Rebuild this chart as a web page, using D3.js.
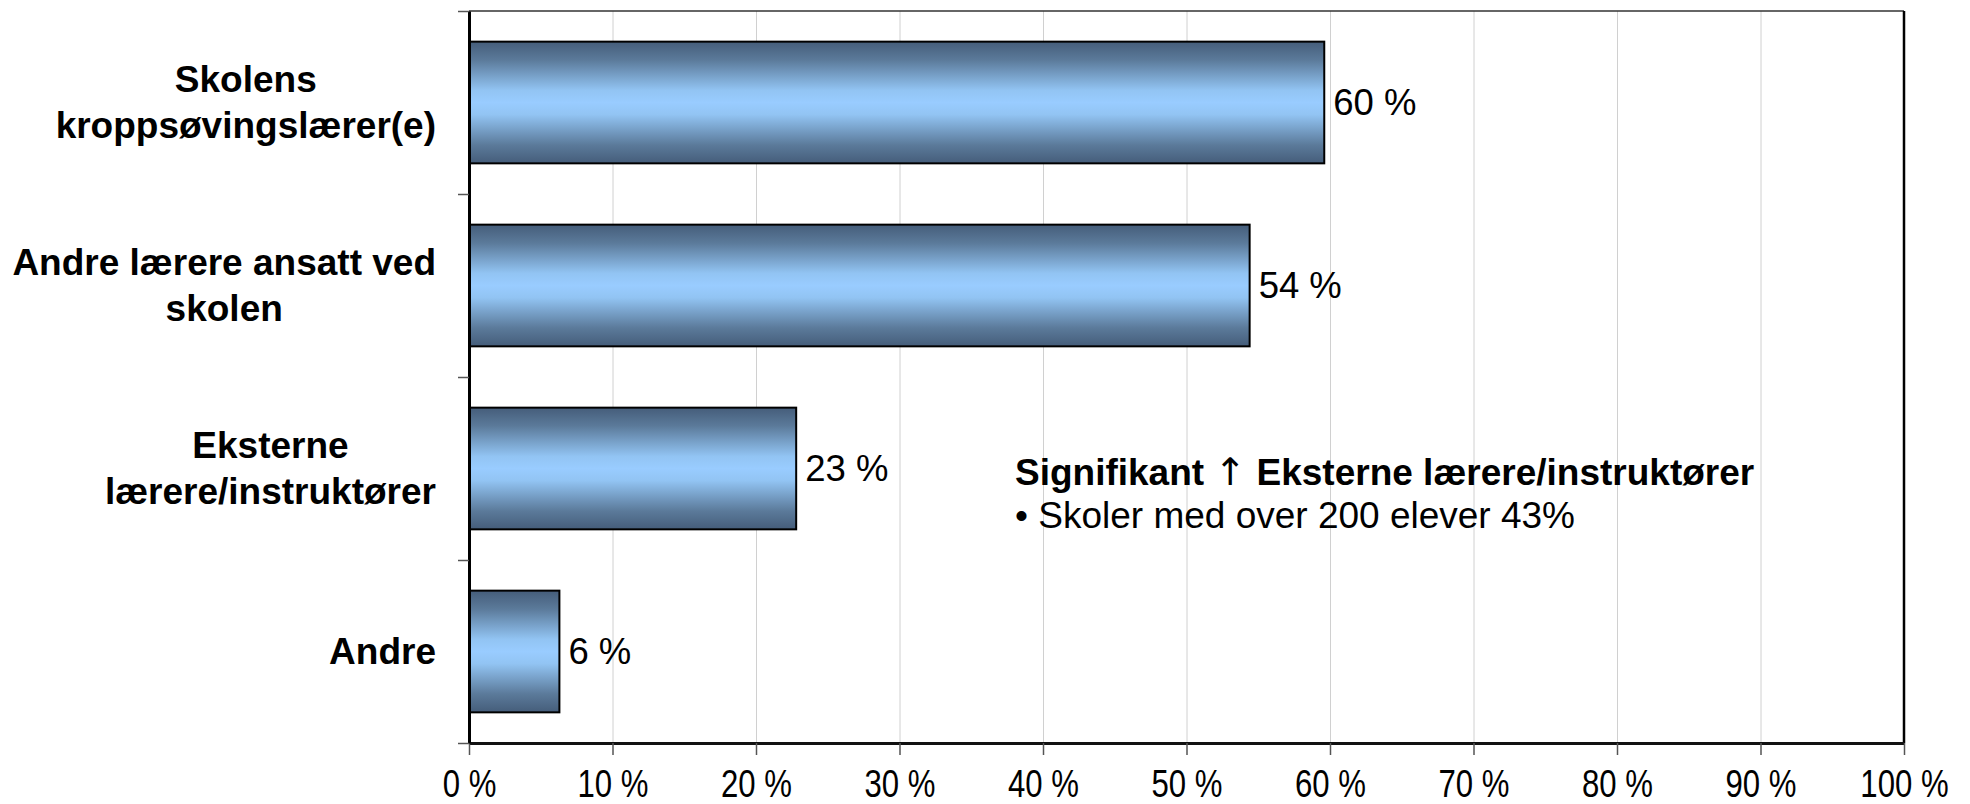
<!DOCTYPE html>
<html>
<head>
<meta charset="utf-8">
<script src="https://cdn.jsdelivr.net/npm/d3@7"></script>
<style>
    body { margin: 0; background: #fff; }
    svg { display: block; font-family: "Liberation Sans", Arial, sans-serif; }
    .grid line { stroke: #d0d0d0; stroke-width: 1; }
    .grid path { stroke: none; }
</style>
</head>
<body>
<script>
// data
var categories = [
    ["Skolens", "kroppsøvingslærer(e)"],
    ["Andre lærere ansatt ved", "skolen"],
    ["Eksterne", "lærere/instruktører"],
    ["Andre"]
];
var values = [59.6, 54.4, 22.8, 6.3];
var valueLabels = ["60 %", "54 %", "23 %", "6 %"];
var xTicks = [0, 10, 20, 30, 40, 50, 60, 70, 80, 90, 100];
var noteTitle = ["Signifikant ", "\u2191", " Eksterne lærere/instruktører"];
var noteLines = ["\u2022 Skoler med over 200 elever 43%"];

var margin = { top: 11, bottom: 61, left: 469, right: 66 };
var totalW = 1970, totalH = 804;
var width = totalW - margin.left - margin.right;
var height = totalH - margin.top - margin.bottom;

var svg = d3.select("body")
    .append("svg")
    .attr("width", totalW)
    .attr("height", totalH);

// bar gradient: dark at the edges, light blue in the middle
var grad = svg.append("defs")
    .append("linearGradient")
    .attr("id", "barGrad")
    .attr("x1", 0).attr("y1", 0).attr("x2", 0).attr("y2", 1);
grad.append("stop").attr("offset", "0%").attr("stop-color", "#455d7a");
grad.append("stop").attr("offset", "15%").attr("stop-color", "#5b7a9a");
grad.append("stop").attr("offset", "40%").attr("stop-color", "#92c4f3");
grad.append("stop").attr("offset", "50%").attr("stop-color", "#99ccff");
grad.append("stop").attr("offset", "60%").attr("stop-color", "#92c4f3");
grad.append("stop").attr("offset", "85%").attr("stop-color", "#5b7a9a");
grad.append("stop").attr("offset", "100%").attr("stop-color", "#455d7a");

var chart = svg.append("g")
    .attr("transform", "translate(" + margin.left + "," + margin.top + ")");

var xScale = d3.scaleLinear().domain([0, 100]).range([0, width]);
var yScale = d3.scaleBand()
    .domain(d3.range(categories.length))
    .range([0, height])
    .paddingInner(0.335)
    .paddingOuter(0.1675);

// vertical gridlines
chart.append("g")
    .attr("class", "grid")
    .attr("transform", "translate(0," + height + ")")
    .call(d3.axisBottom(xScale)
        .tickValues(xTicks)
        .tickSize(-height)
        .tickFormat(""));

// bars
chart.selectAll("rect.bar")
    .data(values)
    .enter()
    .append("rect")
    .attr("class", "bar")
    .attr("x", xScale(0))
    .attr("y", (d, i) => yScale(i))
    .attr("width", d => xScale(d) - xScale(0))
    .attr("height", yScale.bandwidth())
    .attr("fill", "url(#barGrad)")
    .attr("stroke", "#000")
    .attr("stroke-width", 2);

// value labels
chart.selectAll("text.val")
    .data(values)
    .enter()
    .append("text")
    .attr("class", "val")
    .attr("x", d => xScale(d) + 9)
    .attr("y", (d, i) => yScale(i) + yScale.bandwidth() / 2)
    .attr("dy", "0.35em")
    .style("font-size", "36.5px")
    .style("fill", "#000")
    .text((d, i) => valueLabels[i]);

// plot frame (top and right)
chart.append("line")
    .attr("x1", 0).attr("x2", width).attr("y1", 0).attr("y2", 0)
    .attr("stroke", "#333").attr("stroke-width", 1.5);
chart.append("line")
    .attr("x1", width).attr("x2", width).attr("y1", 0).attr("y2", height)
    .attr("stroke", "#000").attr("stroke-width", 2.5);

// x axis
var xAxis = chart.append("g")
    .attr("id", "x-axis")
    .attr("transform", "translate(0," + height + ")")
    .call(d3.axisBottom(xScale)
        .tickValues(xTicks)
        .tickSize(12)
        .tickSizeOuter(0)
        .tickFormat(d => d + " %"));
xAxis.select(".domain").attr("stroke", "#111").attr("stroke-width", 3);
xAxis.selectAll(".tick line").attr("stroke", "#555").attr("stroke-width", 1.5);
xAxis.selectAll(".tick text")
    .attr("y", 54)
    .attr("dy", null)
    .attr("transform", "scale(0.82,1)")
    .style("font-family", "'Liberation Sans', Arial, sans-serif")
    .style("font-size", "38px")
    .style("fill", "#000");

// y axis: ticks sit between the categories
var yEdges = d3.range(categories.length + 1).map(i => i * height / categories.length);
var yAxisScale = d3.scaleLinear().domain([0, height]).range([0, height]);
var yAxis = chart.append("g")
    .attr("id", "y-axis")
    .call(d3.axisLeft(yAxisScale)
        .tickValues(yEdges)
        .tickSize(11)
        .tickSizeOuter(0)
        .tickFormat(""));
yAxis.select(".domain").attr("stroke", "#000").attr("stroke-width", 3);
yAxis.selectAll(".tick line").attr("stroke", "#555").attr("stroke-width", 1.5);

// category labels, lines centred on each other, block right-aligned
var lineGap = 46;
var labelRight = -33;
categories.forEach(function (lines, i) {
    var cy = yScale(i) + yScale.bandwidth() / 2;
    var g = chart.append("g").attr("class", "cat");
    var texts = lines.map(function (s, j) {
        return g.append("text")
            .attr("y", cy + (j - (lines.length - 1) / 2) * lineGap)
            .attr("dy", "0.35em")
            .attr("text-anchor", "middle")
            .style("font-size", "37px")
            .style("font-weight", "bold")
            .style("fill", "#000")
            .text(s);
    });
    var maxW = d3.max(texts, t => t.node().getComputedTextLength());
    texts.forEach(t => t.attr("x", labelRight - maxW / 2));
});

// note
var note = svg.append("g").attr("transform", "translate(1015,0)");
var title = note.append("text")
    .attr("y", 485)
    .style("font-size", "37px")
    .style("font-weight", "bold");
title.append("tspan").text(noteTitle[0]);
title.append("tspan")
    .style("font-family", "'DejaVu Sans', sans-serif")
    .style("font-weight", "normal")
    .style("font-size", "38px")
    .text(noteTitle[1]);
title.append("tspan").text(noteTitle[2]);
note.selectAll("text.line")
    .data(noteLines)
    .enter()
    .append("text")
    .attr("class", "line")
    .attr("y", (d, i) => 528 + i * 43)
    .style("font-size", "37px")
    .text(d => d);
</script>
</body>
</html>
